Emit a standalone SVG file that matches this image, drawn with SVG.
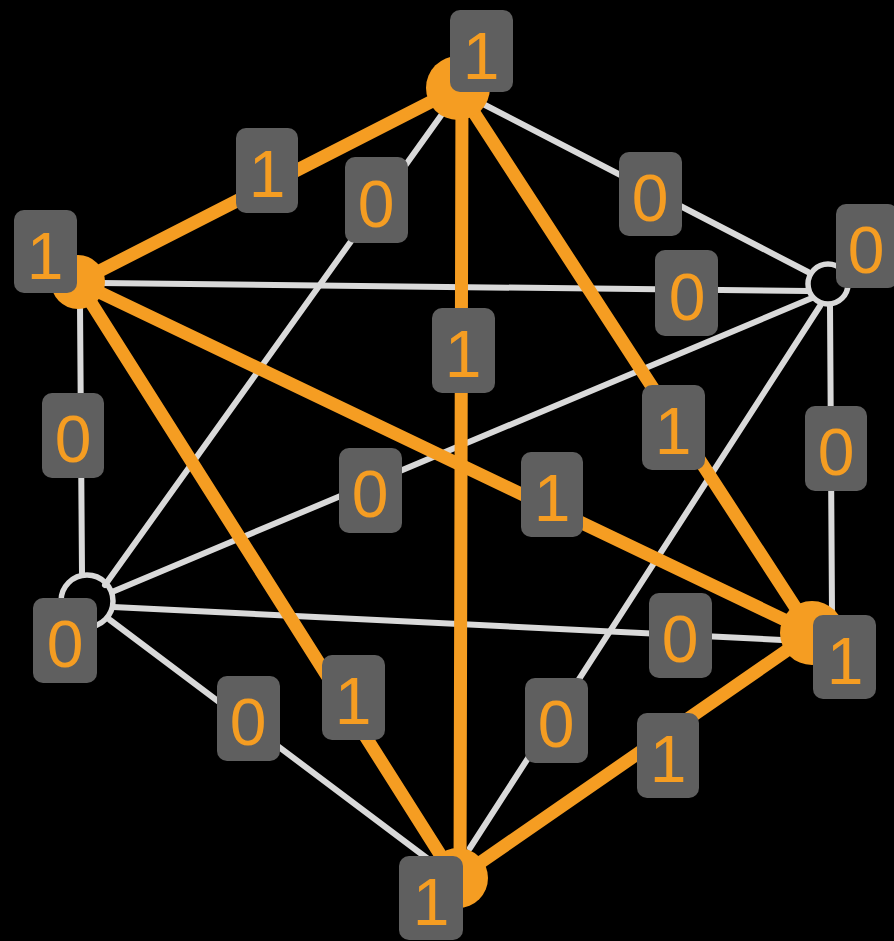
<svg xmlns="http://www.w3.org/2000/svg" width="894" height="941" viewBox="0 0 894 941">
<style>
.g{stroke:#d9d9d9;stroke-width:6;fill:none;stroke-linecap:round}
.o{stroke:#f59d22;stroke-width:13;fill:none;stroke-linecap:round}
.on{fill:#f59d22}
.hn{fill:none;stroke:#d9d9d9;stroke-width:5.5}
.box{fill:#5f5f5f}
.t{fill:#f59d22;font-family:"Liberation Sans",Arial,sans-serif;font-size:66px;text-anchor:middle}
</style>
<rect width="894" height="941" fill="#000"/>
<g id="connectors">
<path class="g" d="M445 110 L105 585"/>
<path class="g" d="M485 105 L808 272"/>
<path class="g" d="M100 283 L808 291"/>
<path class="g" d="M80 305 L82 573"/>
<path class="g" d="M812 298 L112 592"/>
<path class="g" d="M830 305 L832 612"/>
<path class="g" d="M820 306 L470 848"/>
<path class="g" d="M113 607 L782 640"/>
<path class="g" d="M110 620 L440 868"/>
<path class="o" d="M78 282 L458 88"/>
<path class="o" d="M462 88 L460 878"/>
<path class="o" d="M458 88 L812 633"/>
<path class="o" d="M78 282 L812 633"/>
<path class="o" d="M78 282 L455 878"/>
<path class="o" d="M812 633 L458 878"/>
</g>
<g id="node-T"><circle class="on" cx="458" cy="88" r="32"/><rect class="box" x="450" y="10" width="63" height="82" rx="10"/><text class="t" x="481" y="79">1</text></g>
<g id="node-L"><circle class="on" cx="78" cy="282" r="27"/><rect class="box" x="14" y="210" width="63" height="83" rx="10"/><text class="t" x="45" y="279">1</text></g>
<g id="node-R"><circle class="hn" cx="828" cy="284" r="20"/><rect class="box" x="836" y="204" width="62" height="84" rx="10"/><text class="t" x="866" y="273">0</text></g>
<g id="node-LL"><circle class="hn" cx="87" cy="601" r="26"/><rect class="box" x="33" y="598" width="64" height="85" rx="10"/><text class="t" x="65" y="667">0</text></g>
<g id="node-RL"><circle class="on" cx="812" cy="633" r="32"/><rect class="box" x="813" y="615" width="63" height="84" rx="10"/><text class="t" x="845" y="684">1</text></g>
<g id="node-B"><circle class="on" cx="458" cy="878" r="30"/><rect class="box" x="399" y="856" width="64" height="84" rx="10"/><text class="t" x="431" y="925">1</text></g>
<g id="labels">
<g id="e-TL"><rect class="box" x="236" y="128" width="62" height="85" rx="10"/><text class="t" x="267" y="197">1</text></g>
<g id="e-TLL"><rect class="box" x="345" y="157" width="63" height="86" rx="10"/><text class="t" x="376" y="227">0</text></g>
<g id="e-TR"><rect class="box" x="619" y="152" width="63" height="84" rx="10"/><text class="t" x="650" y="221">0</text></g>
<g id="e-LR"><rect class="box" x="655" y="250" width="63" height="86" rx="10"/><text class="t" x="687" y="320">0</text></g>
<g id="e-TB"><rect class="box" x="432" y="308" width="63" height="85" rx="10"/><text class="t" x="463" y="377">1</text></g>
<g id="e-TRL"><rect class="box" x="642" y="385" width="63" height="85" rx="10"/><text class="t" x="673" y="454">1</text></g>
<g id="e-LLL"><rect class="box" x="42" y="393" width="62" height="85" rx="10"/><text class="t" x="73" y="462">0</text></g>
<g id="e-RLL"><rect class="box" x="339" y="448" width="63" height="85" rx="10"/><text class="t" x="370" y="517">0</text></g>
<g id="e-LRL"><rect class="box" x="521" y="452" width="62" height="85" rx="10"/><text class="t" x="552" y="521">1</text></g>
<g id="e-RRL"><rect class="box" x="805" y="406" width="62" height="85" rx="10"/><text class="t" x="836" y="475">0</text></g>
<g id="e-LLRL"><rect class="box" x="649" y="593" width="63" height="85" rx="10"/><text class="t" x="680" y="662">0</text></g>
<g id="e-LB"><rect class="box" x="322" y="655" width="63" height="85" rx="10"/><text class="t" x="353" y="724">1</text></g>
<g id="e-LLB"><rect class="box" x="217" y="676" width="63" height="85" rx="10"/><text class="t" x="248" y="745">0</text></g>
<g id="e-RB"><rect class="box" x="525" y="678" width="63" height="85" rx="10"/><text class="t" x="556" y="747">0</text></g>
<g id="e-RLB"><rect class="box" x="637" y="713" width="62" height="85" rx="10"/><text class="t" x="668" y="782">1</text></g>
</g>
</svg>
